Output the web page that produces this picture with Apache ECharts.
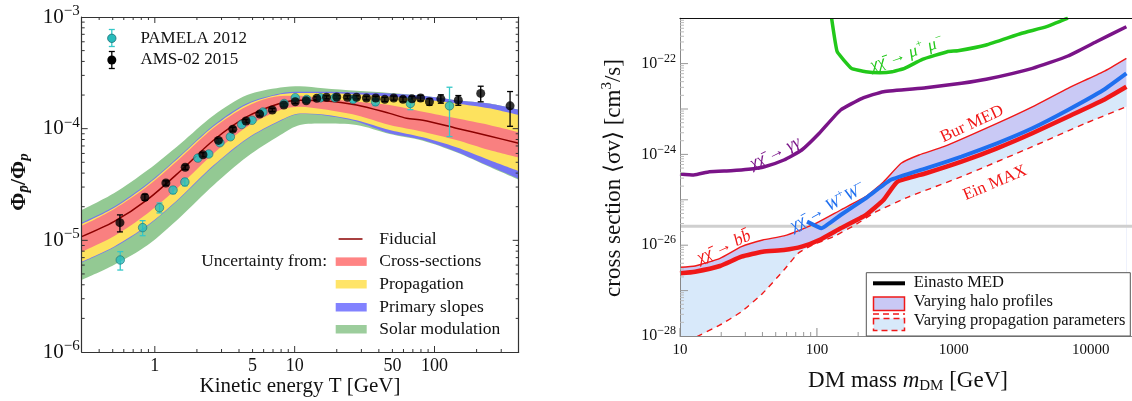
<!DOCTYPE html>
<html><head><meta charset="utf-8">
<script src="https://cdn.jsdelivr.net/npm/echarts@6/dist/echarts.min.js"></script>
<style>html,body{margin:0;padding:0;background:#fff}#c{width:1132px;height:401px}</style>
</head><body><div id="c"></div>
<script>
// ================= LEFT PANEL DATA (antiproton / proton ratio) =================
const bandT   = [0.3,0.51,0.89,1.53,2.64,4.57,7.9,10.9,16,27.7,47.8,82.6,143,246,400];
const solarHi = [1.87e-5,2.64e-5,4.26e-5,7.38e-5,1.32e-4,2.00e-4,2.34e-4,2.40e-4,2.30e-4,2.18e-4,2.09e-4,1.97e-4,1.80e-4,1.68e-4,1.48e-4];
const slopeHi = [1.44e-5,2.00e-5,3.24e-5,5.81e-5,1.08e-4,1.69e-4,2.07e-4,2.14e-4,2.14e-4,2.11e-4,2.07e-4,1.97e-4,1.80e-4,1.68e-4,1.48e-4];
const propHi  = [1.40e-5,1.95e-5,3.16e-5,5.69e-5,1.05e-4,1.65e-4,2.03e-4,2.09e-4,2.09e-4,2.03e-4,1.93e-4,1.83e-4,1.68e-4,1.52e-4,1.32e-4];
const xsecHi  = [1.35e-5,1.90e-5,3.06e-5,5.50e-5,1.02e-4,1.59e-4,1.96e-4,1.97e-4,1.87e-4,1.74e-4,1.63e-4,1.42e-4,1.24e-4,1.08e-4,9.3e-5];
const xsecLo  = [7.91e-6,1.09e-5,1.75e-5,3.13e-5,6.01e-5,1.04e-4,1.47e-4,1.57e-4,1.49e-4,1.32e-4,1.08e-4,9.40e-5,7.91e-5,6.43e-5,5.50e-5];
const propLo  = [6.43e-6,8.77e-6,1.37e-5,2.45e-5,4.72e-5,8.18e-5,1.19e-4,1.37e-4,1.34e-4,1.19e-4,9.73e-5,8.36e-5,6.81e-5,5.24e-5,4.17e-5];
const slopeLo = [6.31e-6,8.61e-6,1.35e-5,2.41e-5,4.63e-5,8.04e-5,1.17e-4,1.35e-4,1.32e-4,1.16e-4,9.08e-5,7.91e-5,6.22e-5,4.62e-5,3.55e-5];
const solarLo = [4.42e-6,6.01e-6,9.08e-6,1.63e-5,3.13e-5,5.60e-5,8.77e-5,1.08e-4,1.11e-4,1.08e-4,8.95e-5,7.80e-5,6.15e-5,4.57e-5,3.50e-5];
const fidT = [0.3,0.51,0.89,1.53,2.64,4.57,7.9,10.9,16,27.7,47.8,63,82.6,143,246,400];
const fidV = [1.08e-5,1.47e-5,2.33e-5,4.20e-5,7.91e-5,1.28e-4,1.69e-4,1.80e-4,1.78e-4,1.63e-4,1.37e-4,1.24e-4,1.19e-4,1.01e-4,8.59e-5,7.41e-5];
const amsT = [0.563,0.849,1.20,1.65,2.21,2.85,3.61,4.49,5.62,6.92,8.37,10.1,12.1,14.4,16.9,20.0,23.8,27.7,32.6,38.0,44.1,51.1,59.5,69,79.5,92,111,148,214,347];
const amsV = [1.44e-5,2.43e-5,3.26e-5,4.51e-5,5.84e-5,7.85e-5,9.9e-5,1.17e-4,1.35e-4,1.47e-4,1.63e-4,1.74e-4,1.78e-4,1.87e-4,1.91e-4,1.92e-4,1.91e-4,1.91e-4,1.88e-4,1.88e-4,1.83e-4,1.88e-4,1.83e-4,1.85e-4,1.88e-4,1.74e-4,1.85e-4,1.80e-4,2.07e-4,1.60e-4];
const amsErr = [0.25e-5,0.15e-5,0.15e-5,0.2e-5,0.25e-5,0.3e-5,0.4e-5,0.4e-5,0.5e-5,0.5e-5,0.5e-5,0.6e-5,0.6e-5,0.6e-5,0.6e-5,0.6e-5,0.6e-5,0.6e-5,0.7e-5,0.7e-5,0.8e-5,0.8e-5,0.9e-5,1.0e-5,1.1e-5,1.2e-5,1.6e-5,1.8e-5,3.3e-5,5.5e-5];
const pamT = [0.566,0.818,1.08,1.35,1.64,2.03,2.43,2.92,3.47,4.18,4.96,5.93,8.41,10.1,12.2,15.3,19.4,26.2,37.8,67.2,128];
const pamV = [6.67e-6,1.30e-5,1.96e-5,2.82e-5,3.33e-5,5.45e-5,5.93e-5,7.48e-5,8.46e-5,1.09e-4,1.19e-4,1.41e-4,1.68e-4,1.89e-4,1.83e-4,1.89e-4,1.89e-4,1.83e-4,1.74e-4,1.68e-4,1.60e-4];
const pamErr = [1.25e-6,0.2e-5,0.2e-5,0.2e-5,0.25e-5,0.3e-5,0.3e-5,0.3e-5,0.4e-5,0.4e-5,0.5e-5,0.5e-5,0.6e-5,0.7e-5,0.7e-5,0.8e-5,0.9e-5,1.0e-5,1.3e-5,2.0e-5,7.5e-5];
const leftXTicks = [1,5,10,50,100];
const leftXTickLabels = ['1','5','10','50','100'];
const leftYExp = [-6,-5,-4,-3];

// ================= RIGHT PANEL DATA (DM annihilation limits) =================
const burM = [10,12.9,19.6,28.1,40.2,57.4,77.5,104,149,227,306,412,556,843,2065,3742,6808,12360,18200];
const burV = [3.26e-27,3.48e-27,5.14e-27,9.27e-27,1.30e-26,1.60e-26,2.24e-26,3.30e-26,5.96e-26,1.17e-25,2.47e-25,6.37e-25,9.71e-25,1.48e-24,4.84e-24,1.12e-23,2.86e-23,6.64e-23,1.31e-22];
const einM = [10,12.9,19.6,28.1,40.2,57.4,77.5,104,149,227,306,388,625,1137,2065,3742,6808,12360,18200];
const einV = [2.40e-27,2.61e-27,3.48e-27,5.58e-27,7.19e-27,7.83e-27,9.27e-27,1.30e-26,2.36e-26,4.62e-26,9.91e-26,2.51e-25,3.84e-25,6.91e-25,1.36e-24,2.92e-24,6.76e-24,1.58e-23,3.10e-23];
const wwM = [84.7,108,149,227,344,625,1137,2065,3742,6808,12360,18200];
const wwV = [3.30e-26,2.36e-26,4.62e-26,1.08e-25,2.73e-25,4.94e-25,8.89e-25,1.75e-24,3.76e-24,9.51e-24,2.62e-23,6.11e-23];
const propMinM = [13.3,19.6,28.1,40.2,57.4,72.9,92.7,132,190,271,464,1137,3742,9162,18200];
const propMinV = [9.7e-29,1.75e-28,3.43e-28,8.73e-28,2.84e-27,6.63e-27,1.01e-26,1.54e-26,2.79e-26,5.47e-26,1.15e-25,3.23e-25,1.48e-24,4.84e-24,1.12e-23];
const gamM = [10,12.6,16.4,23.5,31.6,41.4,57.4,77.5,104,149,214,306,625,1137,1723,3748,6808,10960,18200];
const gamV = [3.70e-25,3.52e-25,4.16e-25,4.38e-25,4.70e-25,5.36e-25,7.53e-25,1.25e-24,2.92e-24,9.5e-24,1.72e-23,2.41e-23,2.94e-23,3.68e-23,4.51e-23,7.87e-23,1.47e-22,3.03e-22,6.5e-22];
const muM = [128,140.6,178.7,227,288,355,437,589,895,1071,1722,3133,4757,6808];
const muV = [1.0e-21,1.83e-22,7.87e-23,6.63e-23,6.31e-23,6.63e-23,7.87e-23,1.24e-22,1.83e-22,1.92e-22,2.57e-22,4.66e-22,6.50e-22,1.0e-21];
const thermalXS = 2.6e-26;
const rightXTicks = [10,100,1000,10000];
const rightXTickLabels = ['10','100','1000','10000'];
const rightYExp = [-28,-26,-24,-22];

// ================= helpers =================
const SERIF = "'Liberation Serif','Times New Roman',serif";
const MINUS = '\u2212';
const LEFT_Y = [1e-6, 1e-3], LEFT_X = [0.3, 400];
const RIGHT_Y = [1e-28, 1e-21], RIGHT_X = [10, 20000];
function minorVals(decades, lo, hi) {
  const out = [];
  decades.forEach(d => { for (let k = 2; k <= 9; k++) { const v = k * d; if (v > lo * 1.0001 && v < hi * 0.9999) out.push(v); } });
  return out;
}
function pairs(xs, ys) { return xs.map((x, i) => [x, ys[i]]); }
function fill(xi, yi, xs, ys, color, smooth, base) {
  return { type: 'line', xAxisIndex: xi, yAxisIndex: yi, data: pairs(xs, ys), symbol: 'none',
    smooth: smooth, lineStyle: { width: 0, opacity: 0 },
    areaStyle: { color: color, opacity: 1, origin: base }, silent: true, z: 1 };
}
function stroke(xi, yi, xs, ys, color, width, type, smooth, z) {
  return { type: 'line', xAxisIndex: xi, yAxisIndex: yi, data: pairs(xs, ys), symbol: 'none',
    smooth: smooth, lineStyle: { color: color, width: width, type: type, cap: 'butt', join: 'round' },
    silent: true, z: z || 3 };
}
function xTicks(xi, yi, vals, yRef, len, color, both) {
  return { type: 'custom', xAxisIndex: xi, yAxisIndex: yi, silent: true, z: 20, clip: false,
    data: vals.map(v => [v, yRef]),
    renderItem(params, api) {
      const cs = params.coordSys; const x = api.coord([api.value(0), yRef])[0];
      const ch = [{ type: 'line', shape: { x1: x, y1: cs.y + cs.height, x2: x, y2: cs.y + cs.height - len }, style: { stroke: color, lineWidth: 1 } }];
      if (both) ch.push({ type: 'line', shape: { x1: x, y1: cs.y, x2: x, y2: cs.y + len }, style: { stroke: color, lineWidth: 1 } });
      return { type: 'group', children: ch };
    } };
}
function yTicks(xi, yi, vals, xRef, len, color, both) {
  return { type: 'custom', xAxisIndex: xi, yAxisIndex: yi, silent: true, z: 20, clip: false,
    data: vals.map(v => [xRef, v]),
    renderItem(params, api) {
      const cs = params.coordSys; const y = api.coord([xRef, api.value(1)])[1];
      const ch = [{ type: 'line', shape: { x1: cs.x, y1: y, x2: cs.x + len, y2: y }, style: { stroke: color, lineWidth: 1 } }];
      if (both) ch.push({ type: 'line', shape: { x1: cs.x + cs.width, y1: y, x2: cs.x + cs.width - len, y2: y }, style: { stroke: color, lineWidth: 1 } });
      return { type: 'group', children: ch };
    } };
}
function xLabels(xi, yi, vals, texts, yRef, dy, size) {
  return { type: 'custom', xAxisIndex: xi, yAxisIndex: yi, silent: true, z: 20, clip: false,
    data: vals.map(v => [v, yRef]),
    renderItem(params, api) {
      const cs = params.coordSys; const x = api.coord([api.value(0), yRef])[0];
      return { type: 'text', x: x, y: cs.y + cs.height + dy,
        style: { text: texts[params.dataIndex], fontFamily: SERIF, fontSize: size, fill: '#111',
          align: 'center', verticalAlign: 'middle', textAlign: 'center', textVerticalAlign: 'middle' } };
    } };
}
function yLabels(xi, yi, exps, xRef, dx, base, sup, lh) {
  return { type: 'custom', xAxisIndex: xi, yAxisIndex: yi, silent: true, z: 20, clip: false,
    data: exps.map(e => [xRef, Math.pow(10, e)]),
    renderItem(params, api) {
      const cs = params.coordSys; const y = api.coord([xRef, api.value(1)])[1];
      const e = exps[params.dataIndex];
      return { type: 'text', x: cs.x - dx, y: y,
        style: { text: '{b|10}{s|' + MINUS + Math.abs(e) + '}', align: 'right', verticalAlign: 'middle',
          textAlign: 'right', textVerticalAlign: 'middle',
          rich: { b: { fontFamily: SERIF, fontSize: base, lineHeight: lh, fill: '#111' },
                  s: { fontFamily: SERIF, fontSize: sup, lineHeight: sup, verticalAlign: 'top', fill: '#111' } } } };
    } };
}
function errBars(xs, vs, es, color) {
  return { type: 'custom', xAxisIndex: 0, yAxisIndex: 0, silent: true, z: 4, clip: true,
    data: xs.map((x, i) => [x, vs[i], es[i]]),
    renderItem(params, api) {
      const x = api.value(0), v = api.value(1), e = api.value(2);
      const t = api.coord([x, v + e]), b = api.coord([x, v - e]); const c = 3;
      const st = { stroke: color, lineWidth: 1.3 };
      return { type: 'group', children: [
        { type: 'line', shape: { x1: t[0], y1: t[1], x2: b[0], y2: b[1] }, style: st },
        { type: 'line', shape: { x1: t[0] - c, y1: t[1], x2: t[0] + c, y2: t[1] }, style: st },
        { type: 'line', shape: { x1: b[0] - c, y1: b[1], x2: b[0] + c, y2: b[1] }, style: st } ] };
    } };
}
function txt(x, y, text, opt) {
  opt = opt || {};
  const st = { text: text, fontFamily: SERIF, fontSize: opt.size || 16, fill: opt.color || '#111',
    fontStyle: opt.italic ? 'italic' : 'normal', fontWeight: opt.bold ? 'bold' : 'normal',
    align: opt.align || 'left', verticalAlign: 'middle', textAlign: opt.align || 'left', textVerticalAlign: 'middle' };
  if (opt.rich) st.rich = opt.rich;
  return { type: 'text', x: x, y: y, rotation: opt.rot || 0, z: 50, style: st };
}

// ================= colours =================
const C = { green: '#93c993', blue: '#7474f2', yellow: '#fde25e', red: '#f98080', fid: '#8b0000',
  purpleBand: '#c9c9f5', lightBlue: '#d8e9fa', redLine: '#f01818', wwBlue: '#1f6fef', gam: '#7a1488', mu: '#22c81a' };

const LG = { left: 81.7, top: 17, width: 437, height: 335 };
const RG = { left: 680, top: 18.2, width: 456.5, height: 317.8 };

const chart = echarts.init(document.getElementById('c'), null, { renderer: 'canvas' });
const LB = LEFT_Y[0], RB = RIGHT_Y[0];

const series = [
  // ---- left bands (painted outer to inner, then lower edges) ----
  fill(0, 0, bandT, solarHi, C.green, 0.3, LB),
  fill(0, 0, bandT, slopeHi, C.blue, 0.3, LB),
  fill(0, 0, bandT, propHi, C.yellow, 0.3, LB),
  fill(0, 0, bandT, xsecHi, C.red, 0.3, LB),
  fill(0, 0, bandT, xsecLo, C.yellow, 0.3, LB),
  fill(0, 0, bandT, propLo, C.blue, 0.3, LB),
  fill(0, 0, bandT, slopeLo, C.green, 0.3, LB),
  fill(0, 0, bandT, solarLo, '#ffffff', 0.3, LB),
  stroke(0, 0, fidT, fidV, C.fid, 1.5, 'solid', 0.3, 3),
  errBars(pamT, pamV, pamErr, '#35c8c8'),
  errBars(amsT, amsV, amsErr, '#000000'),
  { type: 'scatter', xAxisIndex: 0, yAxisIndex: 0, data: pairs(pamT, pamV), symbol: 'circle', symbolSize: 8.5,
    itemStyle: { color: '#27bcbc', borderColor: '#1d6f75', borderWidth: 0.8 }, silent: true, z: 5 },
  { type: 'scatter', xAxisIndex: 0, yAxisIndex: 0, data: pairs(amsT, amsV), symbol: 'circle', symbolSize: 9,
    itemStyle: { color: '#000' }, silent: true, z: 6 },
  // left ticks and labels
  xTicks(0, 0, [1, 10, 100], LB, 6, '#333', true),
  xTicks(0, 0, minorVals([0.1, 1, 10, 100], LEFT_X[0], LEFT_X[1]), LB, 3, '#333', true),
  yTicks(0, 0, [1e-5, 1e-4], LEFT_X[0], 6, '#333', true),
  yTicks(0, 0, minorVals([1e-6, 1e-5, 1e-4], LEFT_Y[0], LEFT_Y[1]), LEFT_X[0], 3, '#333', true),
  xLabels(0, 0, leftXTicks, leftXTickLabels, LB, 14, 18),
  yLabels(0, 0, leftYExp, LEFT_X[0], 2, 21, 15, 27),

  // ---- right panel fills ----
  fill(2, 2, burM, burV, C.purpleBand, 0.15, RB),
  fill(2, 2, einM, einV, C.lightBlue, 0.15, RB),
  fill(2, 2, propMinM, propMinV, '#ffffff', 0.15, RB),
  { type: 'line', xAxisIndex: 2, yAxisIndex: 2, data: [[RIGHT_X[0], thermalXS], [RIGHT_X[1], thermalXS]], symbol: 'none',
    lineStyle: { color: '#cfcfcf', width: 3 }, silent: true, z: 2 },
  stroke(2, 2, propMinM, propMinV, C.redLine, 1.4, [6, 5], 0.15, 3),
  stroke(2, 2, burM, burV, C.redLine, 1.4, 'solid', 0.15, 3),
  stroke(2, 2, einM, einV, C.redLine, 4.5, 'solid', 0.15, 4),
  stroke(2, 2, wwM, wwV, C.wwBlue, 4, 'solid', 0.1, 5),
  stroke(2, 2, gamM, gamV, C.gam, 3.5, 'solid', 0.15, 4),
  stroke(2, 2, muM, muV, C.mu, 3.5, 'solid', 0.1, 4),
  // right ticks and labels
  xTicks(2, 2, [10, 100, 1000, 10000], RB, 8, '#888', false),
  xTicks(2, 2, minorVals([10, 100, 1000, 10000], RIGHT_X[0], RIGHT_X[1]), RB, 4, '#999', false),
  yTicks(2, 2, [1e-27, 1e-26, 1e-25, 1e-24, 1e-23, 1e-22], RIGHT_X[0], 8, '#999', false),
  yTicks(2, 2, minorVals([1e-28, 1e-27, 1e-26, 1e-25, 1e-24, 1e-23, 1e-22], RIGHT_Y[0], RIGHT_Y[1]), RIGHT_X[0], 4, '#bbb', false),
  xLabels(2, 2, rightXTicks, rightXTickLabels, RB, 14, 15),
  yLabels(2, 2, rightYExp, RIGHT_X[0], 4, 16, 12, 22)
];

const logAx = (grid, min, max, pos, color, w) => ({ gridIndex: grid, type: 'log', logBase: 10, min: min, max: max, position: pos, z: 10,
  axisLine: { show: true, onZero: false, lineStyle: { color: color, width: w } }, axisTick: { show: false },
  axisLabel: { show: false }, splitLine: { show: false }, minorTick: { show: false } });

const chi = 'χχ\u0304';
const lblRich = (col) => ({
  t: { fontFamily: SERIF, fontSize: 17, fontStyle: 'italic', fill: col, lineHeight: 22 },
  s: { fontFamily: SERIF, fontSize: 11, fontStyle: 'italic', fill: col, lineHeight: 11, verticalAlign: 'top' } });

const graphic = [
  // ----- left legend (top-left) -----
  { type: 'line', z: 50, shape: { x1: 111.8, y1: 29.5, x2: 111.8, y2: 46.5 }, style: { stroke: '#35c8c8', lineWidth: 1.3 } },
  { type: 'line', z: 50, shape: { x1: 108.8, y1: 29.5, x2: 114.8, y2: 29.5 }, style: { stroke: '#35c8c8', lineWidth: 1.3 } },
  { type: 'line', z: 50, shape: { x1: 108.8, y1: 46.5, x2: 114.8, y2: 46.5 }, style: { stroke: '#35c8c8', lineWidth: 1.3 } },
  { type: 'circle', z: 51, shape: { cx: 111.8, cy: 38.3, r: 4.2 }, style: { fill: '#27bcbc', stroke: '#1d6f75', lineWidth: 0.8 } },
  txt(140.4, 38.3, 'PAMELA 2012', { size: 17 }),
  { type: 'line', z: 50, shape: { x1: 111.8, y1: 51.5, x2: 111.8, y2: 68.5 }, style: { stroke: '#000', lineWidth: 1.3 } },
  { type: 'line', z: 50, shape: { x1: 108.8, y1: 51.5, x2: 114.8, y2: 51.5 }, style: { stroke: '#000', lineWidth: 1.3 } },
  { type: 'line', z: 50, shape: { x1: 108.8, y1: 68.5, x2: 114.8, y2: 68.5 }, style: { stroke: '#000', lineWidth: 1.3 } },
  { type: 'circle', z: 51, shape: { cx: 111.8, cy: 60, r: 4.5 }, style: { fill: '#000' } },
  txt(140.4, 60, 'AMS-02 2015', { size: 17 }),
  // ----- left legend (bottom-right) -----
  { type: 'line', z: 50, shape: { x1: 338.6, y1: 239, x2: 362.5, y2: 239 }, style: { stroke: C.fid, lineWidth: 1.5 } },
  txt(379.3, 239, 'Fiducial', { size: 17.5 }),
  txt(327, 261.7, 'Uncertainty from:', { size: 17.5, align: 'right' }),
  { type: 'rect', z: 50, shape: { x: 335.7, y: 257.4, width: 31, height: 8.5 }, style: { fill: '#ff8484' } },
  txt(379.3, 261.7, 'Cross-sections', { size: 17.5 }),
  { type: 'rect', z: 50, shape: { x: 335.7, y: 280, width: 31, height: 8.5 }, style: { fill: '#ffe468' } },
  txt(379.3, 284.3, 'Propagation', { size: 17.5 }),
  { type: 'rect', z: 50, shape: { x: 335.7, y: 303, width: 31, height: 8.5 }, style: { fill: '#8282ff' } },
  txt(379.3, 307.3, 'Primary slopes', { size: 17.5 }),
  { type: 'rect', z: 50, shape: { x: 335.7, y: 325, width: 31, height: 8.5 }, style: { fill: '#9ccd9c' } },
  txt(379.3, 329.3, 'Solar modulation', { size: 17.5 }),
  // ----- left axis titles -----
  txt(300, 386, 'Kinetic energy T [GeV]', { size: 21, align: 'center' }),
  txt(19, 182, '{f|Φ}{s|p\u0304}{f|/Φ}{s|p}', { align: 'center', rot: Math.PI / 2,
    rich: { f: { fontFamily: SERIF, fontSize: 22, fontWeight: 'bold', fill: '#111', lineHeight: 26 },
            s: { fontFamily: SERIF, fontSize: 15, fontStyle: 'italic', fontWeight: 'bold', fill: '#111', lineHeight: 15, verticalAlign: 'bottom' } } }),
  // ----- right axis titles -----
  txt(614, 178, '{t|cross section ⟨σv⟩ [cm}{s|3}{t|/s]}', { align: 'center', rot: Math.PI / 2,
    rich: { t: { fontFamily: SERIF, fontSize: 23, fill: '#111', lineHeight: 28 },
            s: { fontFamily: SERIF, fontSize: 15, fill: '#111', lineHeight: 15, verticalAlign: 'top' } } }),
  txt(908, 381, '{t|DM mass }{i|m}{u|DM}{t| [GeV]}', { align: 'center',
    rich: { t: { fontFamily: SERIF, fontSize: 23, fill: '#111', lineHeight: 26 },
            i: { fontFamily: SERIF, fontSize: 23, fontStyle: 'italic', fill: '#111', lineHeight: 26 },
            u: { fontFamily: SERIF, fontSize: 15, fill: '#111', lineHeight: 15, verticalAlign: 'bottom' } } }),
  // ----- right curve labels -----
  txt(972, 124, 'Bur MED', { size: 17, color: C.redLine, align: 'center', rot: 0.43 }),
  txt(995, 183, 'Ein MAX', { size: 17, color: C.redLine, align: 'center', rot: 0.40 }),
  txt(775, 153, '{t|' + chi + ' → γγ}', { align: 'center', rot: 0.45, rich: lblRich(C.gam) }),
  txt(907, 54, '{t|' + chi + ' → μ}{s|+}{t| μ}{s|' + MINUS + '}', { align: 'center', rot: 0.33, rich: lblRich(C.mu) }),
  txt(828, 207, '{t|' + chi + ' → W}{s|+}{t|W}{s|' + MINUS + '}', { align: 'center', rot: 0.50, rich: lblRich(C.wwBlue) }),
  txt(724, 247, '{t|' + chi + ' → bb\u0304}', { align: 'center', rot: 0.43, rich: lblRich(C.redLine) }),
  // ----- right legend -----
  { type: 'rect', z: 45, shape: { x: 866.3, y: 272.7, width: 264, height: 63.3 }, style: { fill: '#fff', stroke: '#555', lineWidth: 1 } },
  { type: 'line', z: 50, shape: { x1: 873, y1: 283.3, x2: 905, y2: 283.3 }, style: { stroke: '#000', lineWidth: 4 } },
  txt(913.7, 282.5, 'Einasto MED', { size: 16.5 }),
  { type: 'rect', z: 50, shape: { x: 873.5, y: 297, width: 31, height: 13.5 }, style: { fill: C.purpleBand, stroke: C.redLine, lineWidth: 1.5 } },
  txt(913.7, 301.5, 'Varying halo profiles', { size: 16.5 }),
  { type: 'line', z: 50, shape: { x1: 873, y1: 314, x2: 905, y2: 314 }, style: { stroke: C.redLine, lineWidth: 1.5, lineDash: [6, 4] } },
  { type: 'rect', z: 50, shape: { x: 873.5, y: 318.5, width: 31, height: 12 }, style: { fill: C.lightBlue, stroke: C.redLine, lineWidth: 1.5, lineDash: [6, 4] } },
  txt(913.7, 320.5, 'Varying propagation parameters', { size: 16.5 })
];

chart.setOption({
  animation: false,
  backgroundColor: '#fff',
  grid: [
    { left: LG.left, top: LG.top, width: LG.width, height: LG.height, containLabel: false },
    { left: RG.left, top: RG.top, width: RG.width, height: RG.height, containLabel: false }
  ],
  xAxis: [
    logAx(0, LEFT_X[0], LEFT_X[1], 'bottom', '#333', 1.2),
    logAx(0, LEFT_X[0], LEFT_X[1], 'top', '#333', 1.2),
    logAx(1, RIGHT_X[0], RIGHT_X[1], 'bottom', '#888', 1),
    logAx(1, RIGHT_X[0], RIGHT_X[1], 'top', '#111', 1.2)
  ],
  yAxis: [
    logAx(0, LEFT_Y[0], LEFT_Y[1], 'left', '#333', 1.2),
    logAx(0, LEFT_Y[0], LEFT_Y[1], 'right', '#333', 1.2),
    logAx(1, RIGHT_Y[0], RIGHT_Y[1], 'left', '#888', 1)
  ],
  series: series,
  graphic: graphic
});
</script></body></html>
